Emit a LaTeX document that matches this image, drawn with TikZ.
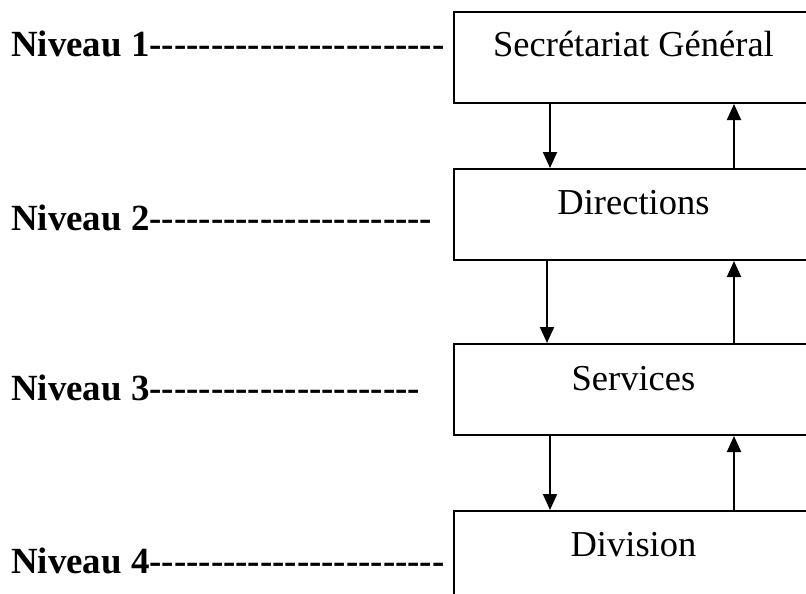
\documentclass[tikz,border=0pt]{standalone}
\usepackage{fontspec}
\setmainfont{Liberation Serif}[Ligatures=TeXOff]
\usetikzlibrary{arrows.meta}
\begin{document}
\begin{tikzpicture}[x=1pt,y=-1pt,
  levelbox/.style={draw,line width=2pt,rectangle,inner xsep=0pt,inner ysep=0pt,
    minimum width=359pt,anchor=north west,text height=45pt,
    font=\fontsize{36.5}{40}\selectfont},
  levellabel/.style={anchor=base west,inner sep=0pt,font=\bfseries\fontsize{36.9}{40}\selectfont},
  flow/.style={line width=2pt,-{Triangle[width=14pt,length=16pt]}}]
\useasboundingbox (0,0) rectangle (806,594);
\node[levelbox,text depth=46pt] (sg) at (453,11) {Secrétariat Général};
\node[levelbox,text depth=46pt] (dir) at (453,168) {Directions};
\node[levelbox,text height=46pt,text depth=45pt] (ser) at (453,343) {Services};
\node[levelbox,text depth=50pt] (div) at (453,510) {Division};
\node[levellabel] (n1) at (11,57) {Niveau 1------------------------};
\node[levellabel] (n2) at (11,230) {Niveau 2-----------------------};
\node[levellabel] (n3) at (11,400) {Niveau 3----------------------};
\node[levellabel] (n4) at (11,573) {Niveau 4------------------------};
\draw[flow] (sg.south west) ++(97,0) coordinate (a1) -- (a1 |- dir.north);
\draw[flow] (dir.north west) ++(281,0) coordinate (b1) -- (b1 |- sg.south);
\draw[flow] (dir.south west) ++(94,0) coordinate (a2) -- (a2 |- ser.north);
\draw[flow] (ser.north west) ++(281,0) coordinate (b2) -- (b2 |- dir.south);
\draw[flow] (ser.south west) ++(97,0) coordinate (a3) -- (a3 |- div.north);
\draw[flow] (div.north west) ++(281,0) coordinate (b3) -- (b3 |- ser.south);
\end{tikzpicture}
\end{document}
